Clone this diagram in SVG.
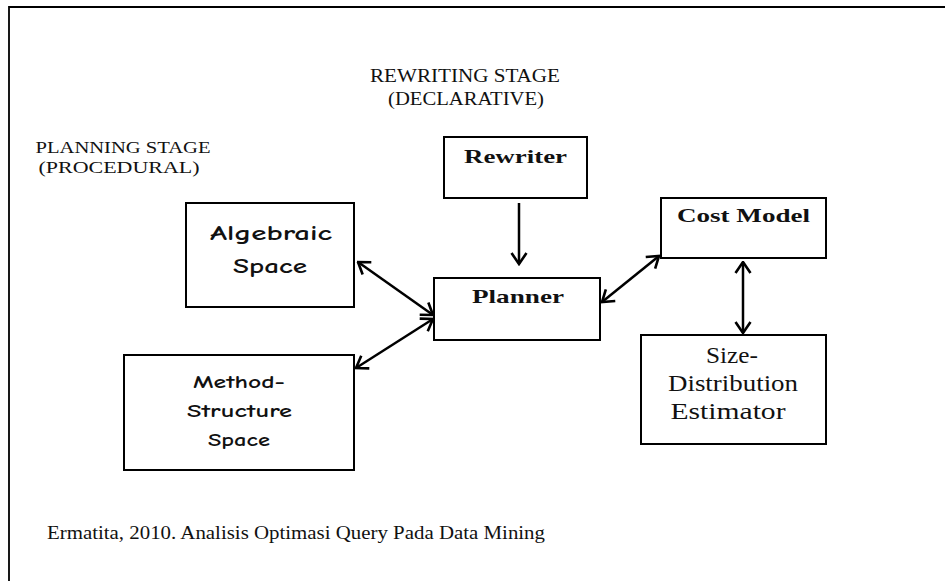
<svg xmlns="http://www.w3.org/2000/svg" width="945" height="581" viewBox="0 0 945 581">
<style>
.box{fill:#fff;stroke:#000;stroke-width:2}
.t{font-family:"Liberation Serif","Times New Roman",serif;fill:#111}
.b{font-weight:bold}
.c{font-family:"Comic Neue","DejaVu Sans","Liberation Sans",sans-serif;font-weight:bold;fill:#111}
.ln{stroke:#000;stroke-width:2.5;fill:none;marker-end:url(#ah)}
.ln2{stroke:#000;stroke-width:2.5;fill:none;marker-end:url(#ah);marker-start:url(#ahs)}
</style>
<defs>
<marker id="ah" viewBox="0 0 14 18" refX="12.5" refY="9" markerWidth="14" markerHeight="18" markerUnits="userSpaceOnUse" orient="auto">
<path d="M1.5,1.5 L12.5,9 L1.5,16.5" fill="none" stroke="#000" stroke-width="2.6" stroke-linejoin="miter"/>
</marker>
<marker id="ahs" viewBox="0 0 14 18" refX="1.5" refY="9" markerWidth="14" markerHeight="18" markerUnits="userSpaceOnUse" orient="auto">
<path d="M12.5,1.5 L1.5,9 L12.5,16.5" fill="none" stroke="#000" stroke-width="2.6" stroke-linejoin="miter"/>
</marker>
</defs>
<rect x="0" y="0" width="945" height="581" fill="#fff"/>
<path d="M9,581 L9,7 L945,7" fill="none" stroke="#000" stroke-width="1.8"/>

<g id="labels">
<text class="t" x="465" y="82" font-size="18" text-anchor="middle" textLength="190" lengthAdjust="spacingAndGlyphs">REWRITING STAGE</text>
<text class="t" x="466" y="105" font-size="18" text-anchor="middle" textLength="156" lengthAdjust="spacingAndGlyphs">(DECLARATIVE)</text>
<text class="t" x="123" y="153" font-size="17" text-anchor="middle" textLength="175" lengthAdjust="spacingAndGlyphs">PLANNING STAGE</text>
<text class="t" x="119" y="173" font-size="17" text-anchor="middle" textLength="161" lengthAdjust="spacingAndGlyphs">(PROCEDURAL)</text>
<text class="t" x="47" y="539" font-size="18" textLength="498" lengthAdjust="spacingAndGlyphs">Ermatita, 2010. Analisis Optimasi Query Pada Data Mining</text>
</g>

<g id="connectors">
<line class="ln" x1="519" y1="203" x2="519" y2="264"/>
<line class="ln2" x1="358" y1="262" x2="433" y2="315"/>
<line class="ln2" x1="356" y1="368" x2="433" y2="319"/>
<line class="ln2" x1="602" y1="302" x2="659" y2="256"/>
<line class="ln2" x1="743" y1="262" x2="743" y2="333"/>
</g>

<g id="rewriter">
<rect class="box" x="444" y="137" width="143" height="61"/>
<text class="t b" x="515.5" y="163" font-size="19" text-anchor="middle" textLength="103" lengthAdjust="spacingAndGlyphs">Rewriter</text>
</g>
<g id="cost-model">
<rect class="box" x="661" y="198" width="165" height="60"/>
<text class="t b" x="743.5" y="222" font-size="19" text-anchor="middle" textLength="133" lengthAdjust="spacingAndGlyphs">Cost Model</text>
</g>
<g id="planner">
<rect class="box" x="434" y="278" width="166" height="62"/>
<text class="t b" x="518" y="303" font-size="19" text-anchor="middle" textLength="92" lengthAdjust="spacingAndGlyphs">Planner</text>
</g>
<g id="size-distribution-estimator">
<rect class="box" x="641" y="335" width="185" height="109"/>
<text class="t" x="732" y="363" font-size="23" text-anchor="middle" textLength="52" lengthAdjust="spacingAndGlyphs">Size-</text>
<text class="t" x="733" y="391" font-size="23" text-anchor="middle" textLength="130" lengthAdjust="spacingAndGlyphs">Distribution</text>
<text class="t" x="728" y="419" font-size="23" text-anchor="middle" textLength="115" lengthAdjust="spacingAndGlyphs">Estimator</text>
</g>
<g id="algebraic-space">
<rect class="box" x="186" y="203" width="168" height="104"/>
<text class="c" x="271" y="240" font-size="21" text-anchor="middle" textLength="122" lengthAdjust="spacingAndGlyphs">Algebraic</text>
<text class="c" x="270" y="273" font-size="21" text-anchor="middle" textLength="74" lengthAdjust="spacingAndGlyphs">Space</text>
</g>
<g id="method-structure-space">
<rect class="box" x="124" y="355" width="230" height="115"/>
<text class="c" x="239" y="388" font-size="18" text-anchor="middle" textLength="92" lengthAdjust="spacingAndGlyphs">Method-</text>
<text class="c" x="239.5" y="417" font-size="18" text-anchor="middle" textLength="105" lengthAdjust="spacingAndGlyphs">Structure</text>
<text class="c" x="239" y="446" font-size="18" text-anchor="middle" textLength="62" lengthAdjust="spacingAndGlyphs">Space</text>
</g>
</svg>
